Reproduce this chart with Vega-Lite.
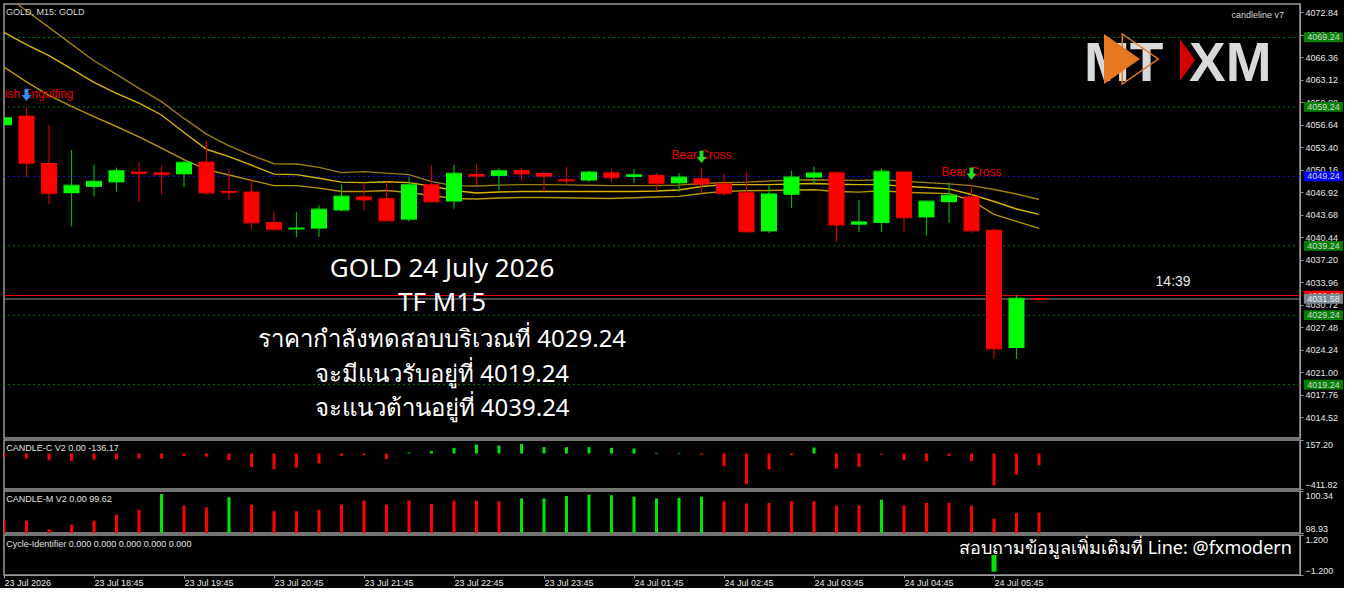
{
  "$schema": "https://vega.github.io/schema/vega-lite/v6.json",
  "background": "#000000",
  "padding": {"left": 2, "top": 3, "right": 0, "bottom": 0},
  "spacing": 2,
  "bounds": "flush",
  "config": {
    "view": {"stroke": "#9a9a9a", "strokeWidth": 1.5, "fill": "#000000"},
    "axis": {"labelColor": "#e6e6e6", "labelFont": "Liberation Sans", "labelFontSize": 9, "tickColor": "#9a9a9a", "domainColor": "#9a9a9a", "grid": false, "tickSize": 3, "labelPadding": 2, "labelOverlap": false},
    "text": {"font": "Liberation Sans"}
  },
  "datasets": {
    "bars": [
      {"i":0,"o":4056.61,"h":4058.00,"l":4056.30,"c":4057.65,"ma1":4075.42,"ma2":4069.97,"ma3":4064.96,"cc":-39,"cm":99.38,"md":"r"},
      {"i":1,"o":4057.98,"h":4059.23,"l":4049.10,"c":4051.16,"ma1":4073.08,"ma2":4068.21,"ma3":4062.84,"cc":-58,"cm":99.34,"md":"r"},
      {"i":2,"o":4051.16,"h":4056.61,"l":4045.23,"c":4046.81,"ma1":4070.69,"ma2":4066.61,"ma3":4060.89,"cc":-77,"cm":99.06,"md":"r"},
      {"i":3,"o":4046.81,"h":4053.03,"l":4042.04,"c":4047.91,"ma1":4068.28,"ma2":4064.72,"ma3":4059.32,"cc":-85,"cm":99.21,"md":"r"},
      {"i":4,"o":4047.73,"h":4050.88,"l":4046.34,"c":4048.48,"ma1":4065.89,"ma2":4062.78,"ma3":4057.85,"cc":-70,"cm":99.34,"md":"r"},
      {"i":5,"o":4048.38,"h":4050.49,"l":4047.05,"c":4050.02,"ma1":4063.93,"ma2":4061.19,"ma3":4056.42,"cc":-66,"cm":99.55,"md":"r"},
      {"i":6,"o":4049.92,"h":4051.25,"l":4045.62,"c":4049.68,"ma1":4061.91,"ma2":4059.80,"ma3":4054.93,"cc":-58,"cm":99.71,"md":"r"},
      {"i":7,"o":4049.82,"h":4050.78,"l":4046.67,"c":4049.53,"ma1":4059.99,"ma2":4058.08,"ma3":4053.30,"cc":-58,"cm":100.24,"md":"g"},
      {"i":8,"o":4049.53,"h":4051.49,"l":4047.67,"c":4051.21,"ma1":4057.58,"ma2":4055.56,"ma3":4051.65,"cc":-27,"cm":99.85,"md":"r"},
      {"i":9,"o":4051.35,"h":4054.36,"l":4046.58,"c":4046.91,"ma1":4055.32,"ma2":4053.14,"ma3":4050.20,"cc":-35,"cm":99.79,"md":"r"},
      {"i":10,"o":4047.15,"h":4050.30,"l":4045.86,"c":4046.95,"ma1":4053.64,"ma2":4052.07,"ma3":4049.43,"cc":-77,"cm":100.13,"md":"g"},
      {"i":11,"o":4047.05,"h":4048.87,"l":4041.65,"c":4042.61,"ma1":4052.27,"ma2":4050.85,"ma3":4048.67,"cc":-155,"cm":99.88,"md":"r"},
      {"i":12,"o":4042.65,"h":4044.19,"l":4041.42,"c":4041.65,"ma1":4051.06,"ma2":4049.56,"ma3":4047.91,"cc":-182,"cm":99.66,"md":"r"},
      {"i":13,"o":4041.61,"h":4044.09,"l":4040.50,"c":4041.75,"ma1":4051.02,"ma2":4049.49,"ma3":4047.91,"cc":-163,"cm":99.66,"md":"r"},
      {"i":14,"o":4041.71,"h":4045.05,"l":4040.50,"c":4044.47,"ma1":4050.53,"ma2":4048.97,"ma3":4047.55,"cc":-116,"cm":99.71,"md":"r"},
      {"i":15,"o":4044.33,"h":4048.10,"l":4044.19,"c":4046.34,"ma1":4049.77,"ma2":4048.41,"ma3":4047.05,"cc":-27,"cm":99.88,"md":"r"},
      {"i":16,"o":4046.34,"h":4048.24,"l":4044.43,"c":4045.91,"ma1":4049.92,"ma2":4048.34,"ma3":4047.05,"cc":-19,"cm":100.02,"md":"r"},
      {"i":17,"o":4046.09,"h":4048.48,"l":4042.75,"c":4042.90,"ma1":4049.70,"ma2":4048.46,"ma3":4047.20,"cc":-66,"cm":99.88,"md":"r"},
      {"i":18,"o":4043.00,"h":4049.10,"l":4042.75,"c":4048.01,"ma1":4049.49,"ma2":4048.34,"ma3":4046.91,"cc":12,"cm":100.02,"md":"r"},
      {"i":19,"o":4048.10,"h":4050.88,"l":4045.48,"c":4045.62,"ma1":4048.48,"ma2":4047.84,"ma3":4046.48,"cc":27,"cm":99.90,"md":"r"},
      {"i":20,"o":4045.62,"h":4050.88,"l":4044.57,"c":4049.63,"ma1":4047.91,"ma2":4047.20,"ma3":4046.05,"cc":66,"cm":100.01,"md":"r"},
      {"i":21,"o":4049.59,"h":4051.02,"l":4048.01,"c":4049.30,"ma1":4047.84,"ma2":4046.84,"ma3":4045.98,"cc":105,"cm":100.01,"md":"r"},
      {"i":22,"o":4049.30,"h":4050.39,"l":4047.15,"c":4050.02,"ma1":4047.98,"ma2":4046.98,"ma3":4046.12,"cc":93,"cm":99.99,"md":"r"},
      {"i":23,"o":4050.16,"h":4050.39,"l":4048.58,"c":4049.63,"ma1":4048.05,"ma2":4047.05,"ma3":4046.19,"cc":112,"cm":100.09,"md":"g"},
      {"i":24,"o":4049.73,"h":4049.92,"l":4047.15,"c":4049.30,"ma1":4048.05,"ma2":4047.05,"ma3":4046.19,"cc":74,"cm":100.09,"md":"g"},
      {"i":25,"o":4048.81,"h":4050.63,"l":4048.10,"c":4048.63,"ma1":4048.01,"ma2":4047.05,"ma3":4046.16,"cc":74,"cm":100.17,"md":"g"},
      {"i":26,"o":4048.63,"h":4050.06,"l":4048.48,"c":4049.82,"ma1":4047.95,"ma2":4047.05,"ma3":4046.09,"cc":74,"cm":100.22,"md":"g"},
      {"i":27,"o":4049.82,"h":4050.39,"l":4048.38,"c":4049.10,"ma1":4047.91,"ma2":4047.05,"ma3":4046.05,"cc":66,"cm":100.20,"md":"g"},
      {"i":28,"o":4049.16,"h":4050.30,"l":4048.24,"c":4049.44,"ma1":4047.91,"ma2":4047.05,"ma3":4046.15,"cc":58,"cm":100.15,"md":"g"},
      {"i":29,"o":4049.44,"h":4049.68,"l":4047.20,"c":4048.24,"ma1":4047.91,"ma2":4047.12,"ma3":4046.26,"cc":8,"cm":100.09,"md":"g"},
      {"i":30,"o":4048.24,"h":4049.68,"l":4047.05,"c":4049.10,"ma1":4047.98,"ma2":4047.27,"ma3":4046.36,"cc":8,"cm":100.11,"md":"g"},
      {"i":31,"o":4048.96,"h":4050.49,"l":4046.81,"c":4048.16,"ma1":4048.20,"ma2":4047.77,"ma3":4046.77,"cc":-15,"cm":100.15,"md":"g"},
      {"i":32,"o":4048.24,"h":4049.53,"l":4046.44,"c":4046.81,"ma1":4048.34,"ma2":4048.05,"ma3":4047.08,"cc":-147,"cm":99.99,"md":"r"},
      {"i":33,"o":4046.95,"h":4049.82,"l":4041.08,"c":4041.32,"ma1":4048.41,"ma2":4048.05,"ma3":4047.17,"cc":-355,"cm":99.92,"md":"r"},
      {"i":34,"o":4041.32,"h":4048.01,"l":4041.08,"c":4046.67,"ma1":4048.56,"ma2":4048.05,"ma3":4047.20,"cc":-186,"cm":99.94,"md":"r"},
      {"i":35,"o":4046.58,"h":4050.06,"l":4044.66,"c":4049.10,"ma1":4048.70,"ma2":4048.13,"ma3":4047.27,"cc":-19,"cm":100.00,"md":"r"},
      {"i":36,"o":4049.06,"h":4050.63,"l":4048.16,"c":4049.68,"ma1":4048.74,"ma2":4048.20,"ma3":4047.31,"cc":70,"cm":100.00,"md":"r"},
      {"i":37,"o":4049.82,"h":4050.02,"l":4039.79,"c":4042.28,"ma1":4048.67,"ma2":4048.11,"ma3":4047.05,"cc":-174,"cm":99.85,"md":"r"},
      {"i":38,"o":4042.28,"h":4045.86,"l":4041.22,"c":4042.65,"ma1":4048.66,"ma2":4048.05,"ma3":4046.97,"cc":-155,"cm":99.86,"md":"r"},
      {"i":39,"o":4042.51,"h":4050.39,"l":4041.22,"c":4049.92,"ma1":4048.74,"ma2":4048.05,"ma3":4047.17,"cc":-12,"cm":100.05,"md":"g"},
      {"i":40,"o":4049.92,"h":4050.06,"l":4041.22,"c":4043.33,"ma1":4048.54,"ma2":4047.81,"ma3":4046.95,"cc":-77,"cm":99.86,"md":"r"},
      {"i":41,"o":4043.33,"h":4045.72,"l":4040.75,"c":4045.62,"ma1":4048.34,"ma2":4047.63,"ma3":4046.84,"cc":-89,"cm":99.94,"md":"r"},
      {"i":42,"o":4045.52,"h":4048.38,"l":4042.51,"c":4046.48,"ma1":4048.16,"ma2":4047.44,"ma3":4046.75,"cc":-27,"cm":99.94,"md":"r"},
      {"i":43,"o":4046.34,"h":4048.01,"l":4041.08,"c":4041.46,"ma1":4047.91,"ma2":4046.62,"ma3":4045.76,"cc":-89,"cm":99.85,"md":"r"},
      {"i":44,"o":4041.56,"h":4041.65,"l":4022.94,"c":4024.46,"ma1":4047.34,"ma2":4045.62,"ma3":4043.76,"cc":-368,"cm":99.41,"md":"r"},
      {"i":45,"o":4024.52,"h":4032.15,"l":4022.94,"c":4031.62,"ma1":4046.69,"ma2":4044.54,"ma3":4042.75,"cc":-244,"cm":99.60,"md":"r"},
      {"i":46,"o":4031.70,"h":4031.80,"l":4031.40,"c":4031.58,"ma1":4045.91,"ma2":4043.76,"ma3":4041.75,"cc":-136.17,"cm":99.62,"md":"r"}
    ],
    "levels": [
      {"p":4069.24,"k":"sr"},
      {"p":4059.24,"k":"sr"},
      {"p":4049.24,"k":"pivot"},
      {"p":4039.24,"k":"sr"},
      {"p":4029.24,"k":"sr"},
      {"p":4019.24,"k":"sr"},
      {"p":4032.08,"k":"ask"},
      {"p":4031.58,"k":"bid"}
    ],
    "patterns": [
      {"i":1,"p":4060.53,"t":"Bearish Engulfing"},
      {"i":31,"p":4051.81,"t":"Bear Cross"},
      {"i":43,"p":4049.29,"t":"Bear Cross"}
    ],
    "arrows": [
      {"i":1,"p":4060.96,"k":"blue"},
      {"i":31,"p":4052.03,"k":"green"},
      {"i":43,"p":4049.65,"k":"green"}
    ],
    "blockLatin": [
      {"i":19.47,"p":4034.75,"t":"GOLD 24 July 2026"},
      {"i":19.47,"p":4029.86,"t":"TF M15"}
    ],
    "blockThai": [
      {"i":19.47,"p":4024.67,"t":"ราคากำลังทดสอบบริเวณที่ 4029.24"},
      {"i":19.47,"p":4019.63,"t":"จะมีแนวรับอยู่ที่ 4019.24"},
      {"i":19.47,"p":4014.73,"t":"จะแนวต้านอยู่ที่ 4039.24"}
    ],
    "leftLabel": [{"i":0.09,"p":4072.48,"t":"GOLD, M15:  GOLD"}],
    "rightLabel": [{"i":56.89,"p":4072.05,"t":"candleline v7"}],
    "timer": [{"i":51.96,"p":4034.03,"t":"14:39"}],
    "logoText": [
      {"i":48.0,"p":4062.98,"t":"MT"},
      {"i":52.67,"p":4062.98,"t":"XM"}
    ],
    "logoOrange": [{"i":49.69,"p":4066.14}],
    "logoOrangeOutline": [{"i":50.5,"p":4066.14}],
    "logoRed": [{"i":52.6,"p":4066.0}],
    "hdr2": [{"i":0.1,"v":58.5,"t":"CANDLE-C V2 0.00 -136.17"}],
    "hdr3": [{"i":0.1,"v":100.07,"t":"CANDLE-M V2 0.00 99.62"}],
    "hdr4": [{"i":0.1,"v":0.66,"t":"Cycle-Identifier 0.000 0.000 0.000 0.000 0.000"}],
    "cycle": [{"i":44,"cy":-1.0}],
    "contact": [{"i":57.24,"v":0.06,"t":"สอบถามข้อมูลเพิ่มเติมที่ Line: @fxmodern"}]
  },
  "vconcat": [
    {
      "width": 1296,
      "height": 434,
      "layer": [
        {
          "data": {"name": "levels"},
          "transform": [{"filter": "datum.k == 'sr'"}],
          "mark": {"type": "rule", "color": "#007a00", "strokeDash": [2, 3], "strokeWidth": 1},
          "encoding": {
            "y": {"field": "p", "type": "quantitative", "scale": {"domain": [4011.56, 4074.06], "nice": false, "zero": false}, "axis": {"orient": "right", "title": null, "values": [4014.52,4017.76,4021.00,4024.24,4027.48,4030.72,4033.96,4037.20,4040.44,4043.68,4046.92,4050.16,4053.40,4056.64,4059.88,4063.12,4066.36,4069.60,4072.84], "format": ".2f", "labelFlush": false}}
          }
        },
        {
          "data": {"name": "levels"},
          "transform": [{"filter": "datum.k == 'pivot'"}],
          "mark": {"type": "rule", "color": "#1010e0", "strokeDash": [2, 3], "strokeWidth": 1},
          "encoding": {
            "y": {"field": "p", "type": "quantitative", "scale": {"domain": [4011.56, 4074.06], "nice": false, "zero": false}, "axis": {"orient": "right", "title": null, "values": [4014.52,4017.76,4021.00,4024.24,4027.48,4030.72,4033.96,4037.20,4040.44,4043.68,4046.92,4050.16,4053.40,4056.64,4059.88,4063.12,4066.36,4069.60,4072.84], "format": ".2f", "labelFlush": false}}
          }
        },
        {
          "data": {"name": "levels"},
          "transform": [{"filter": "datum.k == 'ask'"}],
          "mark": {"type": "rule", "color": "#e00000", "strokeWidth": 1},
          "encoding": {
            "y": {"field": "p", "type": "quantitative", "scale": {"domain": [4011.56, 4074.06], "nice": false, "zero": false}, "axis": {"orient": "right", "title": null, "values": [4014.52,4017.76,4021.00,4024.24,4027.48,4030.72,4033.96,4037.20,4040.44,4043.68,4046.92,4050.16,4053.40,4056.64,4059.88,4063.12,4066.36,4069.60,4072.84], "format": ".2f", "labelFlush": false}}
          }
        },
        {
          "data": {"name": "levels"},
          "transform": [{"filter": "datum.k == 'bid'"}],
          "mark": {"type": "rule", "color": "#8a949e", "strokeWidth": 1.2},
          "encoding": {
            "y": {"field": "p", "type": "quantitative", "scale": {"domain": [4011.56, 4074.06], "nice": false, "zero": false}, "axis": {"orient": "right", "title": null, "values": [4014.52,4017.76,4021.00,4024.24,4027.48,4030.72,4033.96,4037.20,4040.44,4043.68,4046.92,4050.16,4053.40,4056.64,4059.88,4063.12,4066.36,4069.60,4072.84], "format": ".2f", "labelFlush": false}}
          }
        },
        {
          "data": {"name": "bars"},
          "mark": {"type": "line", "color": "#9c7f0c", "strokeWidth": 1.4, "clip": true},
          "encoding": {
            "x": {"field": "i", "type": "quantitative", "scale": {"domain": [0, 57.6], "nice": false, "zero": false, "padding": 0}, "axis": null},
            "y": {"field": "ma1", "type": "quantitative", "scale": {"domain": [4011.56, 4074.06], "nice": false, "zero": false}, "axis": {"orient": "right", "title": null, "values": [4014.52,4017.76,4021.00,4024.24,4027.48,4030.72,4033.96,4037.20,4040.44,4043.68,4046.92,4050.16,4053.40,4056.64,4059.88,4063.12,4066.36,4069.60,4072.84], "format": ".2f", "labelFlush": false}}
          }
        },
        {
          "data": {"name": "bars"},
          "mark": {"type": "line", "color": "#d8b400", "strokeWidth": 1.4, "clip": true},
          "encoding": {
            "x": {"field": "i", "type": "quantitative", "scale": {"domain": [0, 57.6], "nice": false, "zero": false, "padding": 0}, "axis": null},
            "y": {"field": "ma2", "type": "quantitative", "scale": {"domain": [4011.56, 4074.06], "nice": false, "zero": false}, "axis": {"orient": "right", "title": null, "values": [4014.52,4017.76,4021.00,4024.24,4027.48,4030.72,4033.96,4037.20,4040.44,4043.68,4046.92,4050.16,4053.40,4056.64,4059.88,4063.12,4066.36,4069.60,4072.84], "format": ".2f", "labelFlush": false}}
          }
        },
        {
          "data": {"name": "bars"},
          "mark": {"type": "line", "color": "#b89600", "strokeWidth": 1.4, "clip": true},
          "encoding": {
            "x": {"field": "i", "type": "quantitative", "scale": {"domain": [0, 57.6], "nice": false, "zero": false, "padding": 0}, "axis": null},
            "y": {"field": "ma3", "type": "quantitative", "scale": {"domain": [4011.56, 4074.06], "nice": false, "zero": false}, "axis": {"orient": "right", "title": null, "values": [4014.52,4017.76,4021.00,4024.24,4027.48,4030.72,4033.96,4037.20,4040.44,4043.68,4046.92,4050.16,4053.40,4056.64,4059.88,4063.12,4066.36,4069.60,4072.84], "format": ".2f", "labelFlush": false}}
          }
        },
        {
          "data": {"name": "bars"},
          "mark": {"type": "rule", "strokeWidth": 1.2, "clip": true},
          "encoding": {
            "x": {"field": "i", "type": "quantitative", "scale": {"domain": [0, 57.6], "nice": false, "zero": false, "padding": 0}, "axis": null},
            "y": {"field": "l", "type": "quantitative", "scale": {"domain": [4011.56, 4074.06], "nice": false, "zero": false}, "axis": {"orient": "right", "title": null, "values": [4014.52,4017.76,4021.00,4024.24,4027.48,4030.72,4033.96,4037.20,4040.44,4043.68,4046.92,4050.16,4053.40,4056.64,4059.88,4063.12,4066.36,4069.60,4072.84], "format": ".2f", "labelFlush": false}},
            "y2": {"field": "h"},
            "color": {"condition": {"test": "datum.c >= datum.o", "value": "#00b400"}, "value": "#d00000"}
          }
        },
        {
          "data": {"name": "bars"},
          "mark": {"type": "bar", "size": 16, "clip": true},
          "encoding": {
            "x": {"field": "i", "type": "quantitative", "scale": {"domain": [0, 57.6], "nice": false, "zero": false, "padding": 0}, "axis": null},
            "y": {"field": "o", "type": "quantitative", "scale": {"domain": [4011.56, 4074.06], "nice": false, "zero": false}, "axis": {"orient": "right", "title": null, "values": [4014.52,4017.76,4021.00,4024.24,4027.48,4030.72,4033.96,4037.20,4040.44,4043.68,4046.92,4050.16,4053.40,4056.64,4059.88,4063.12,4066.36,4069.60,4072.84], "format": ".2f", "labelFlush": false}},
            "y2": {"field": "c"},
            "color": {"condition": {"test": "datum.c >= datum.o", "value": "#00ff00"}, "value": "#ff0000"}
          }
        },
        {
          "data": {"name": "bars"},
          "mark": {"type": "tick", "orient": "horizontal", "size": 16, "thickness": 2, "clip": true},
          "encoding": {
            "x": {"field": "i", "type": "quantitative", "scale": {"domain": [0, 57.6], "nice": false, "zero": false, "padding": 0}, "axis": null},
            "y": {"field": "c", "type": "quantitative", "scale": {"domain": [4011.56, 4074.06], "nice": false, "zero": false}, "axis": {"orient": "right", "title": null, "values": [4014.52,4017.76,4021.00,4024.24,4027.48,4030.72,4033.96,4037.20,4040.44,4043.68,4046.92,4050.16,4053.40,4056.64,4059.88,4063.12,4066.36,4069.60,4072.84], "format": ".2f", "labelFlush": false}},
            "color": {"condition": {"test": "datum.c >= datum.o", "value": "#00ff00"}, "value": "#ff0000"}
          }
        },
        {
          "data": {"name": "patterns"},
          "mark": {"type": "text", "align": "center", "baseline": "alphabetic", "fontSize": 12, "font": "Liberation Sans", "color": "#e80000", "clip": true},
          "encoding": {
            "x": {"field": "i", "type": "quantitative", "scale": {"domain": [0, 57.6], "nice": false, "zero": false, "padding": 0}, "axis": null},
            "y": {"field": "p", "type": "quantitative", "scale": {"domain": [4011.56, 4074.06], "nice": false, "zero": false}, "axis": {"orient": "right", "title": null, "values": [4014.52,4017.76,4021.00,4024.24,4027.48,4030.72,4033.96,4037.20,4040.44,4043.68,4046.92,4050.16,4053.40,4056.64,4059.88,4063.12,4066.36,4069.60,4072.84], "format": ".2f", "labelFlush": false}},
            "text": {"field": "t"}
          }
        },
        {
          "data": {"name": "arrows"},
          "transform": [{"filter": "datum.k == 'blue'"}],
          "mark": {"type": "point", "shape": "M-0.32,-1L0.32,-1L0.32,0L0.8,0L0,1L-0.8,0L-0.32,0Z", "size": 150, "filled": true, "opacity": 1, "strokeWidth": 0, "color": "#2e8fff"},
          "encoding": {
            "x": {"field": "i", "type": "quantitative", "scale": {"domain": [0, 57.6], "nice": false, "zero": false, "padding": 0}, "axis": null},
            "y": {"field": "p", "type": "quantitative", "scale": {"domain": [4011.56, 4074.06], "nice": false, "zero": false}, "axis": {"orient": "right", "title": null, "values": [4014.52,4017.76,4021.00,4024.24,4027.48,4030.72,4033.96,4037.20,4040.44,4043.68,4046.92,4050.16,4053.40,4056.64,4059.88,4063.12,4066.36,4069.60,4072.84], "format": ".2f", "labelFlush": false}}
          }
        },
        {
          "data": {"name": "arrows"},
          "transform": [{"filter": "datum.k == 'green'"}],
          "mark": {"type": "point", "shape": "M-0.32,-1L0.32,-1L0.32,0L0.8,0L0,1L-0.8,0L-0.32,0Z", "size": 150, "filled": true, "opacity": 1, "strokeWidth": 0, "color": "#22e022"},
          "encoding": {
            "x": {"field": "i", "type": "quantitative", "scale": {"domain": [0, 57.6], "nice": false, "zero": false, "padding": 0}, "axis": null},
            "y": {"field": "p", "type": "quantitative", "scale": {"domain": [4011.56, 4074.06], "nice": false, "zero": false}, "axis": {"orient": "right", "title": null, "values": [4014.52,4017.76,4021.00,4024.24,4027.48,4030.72,4033.96,4037.20,4040.44,4043.68,4046.92,4050.16,4053.40,4056.64,4059.88,4063.12,4066.36,4069.60,4072.84], "format": ".2f", "labelFlush": false}}
          }
        },
        {
          "data": {"name": "blockLatin"},
          "mark": {"type": "text", "align": "center", "baseline": "alphabetic", "fontSize": 26, "font": "Noto Sans", "color": "#ffffff"},
          "encoding": {
            "x": {"field": "i", "type": "quantitative", "scale": {"domain": [0, 57.6], "nice": false, "zero": false, "padding": 0}, "axis": null},
            "y": {"field": "p", "type": "quantitative", "scale": {"domain": [4011.56, 4074.06], "nice": false, "zero": false}, "axis": {"orient": "right", "title": null, "values": [4014.52,4017.76,4021.00,4024.24,4027.48,4030.72,4033.96,4037.20,4040.44,4043.68,4046.92,4050.16,4053.40,4056.64,4059.88,4063.12,4066.36,4069.60,4072.84], "format": ".2f", "labelFlush": false}},
            "text": {"field": "t"}
          }
        },
        {
          "data": {"name": "blockThai"},
          "mark": {"type": "text", "align": "center", "baseline": "alphabetic", "fontSize": 24, "font": "Noto Sans", "color": "#ffffff"},
          "encoding": {
            "x": {"field": "i", "type": "quantitative", "scale": {"domain": [0, 57.6], "nice": false, "zero": false, "padding": 0}, "axis": null},
            "y": {"field": "p", "type": "quantitative", "scale": {"domain": [4011.56, 4074.06], "nice": false, "zero": false}, "axis": {"orient": "right", "title": null, "values": [4014.52,4017.76,4021.00,4024.24,4027.48,4030.72,4033.96,4037.20,4040.44,4043.68,4046.92,4050.16,4053.40,4056.64,4059.88,4063.12,4066.36,4069.60,4072.84], "format": ".2f", "labelFlush": false}},
            "text": {"field": "t"}
          }
        },
        {
          "data": {"name": "timer"},
          "mark": {"type": "text", "align": "center", "baseline": "middle", "fontSize": 14, "font": "Liberation Sans", "color": "#e8e8e8"},
          "encoding": {
            "x": {"field": "i", "type": "quantitative", "scale": {"domain": [0, 57.6], "nice": false, "zero": false, "padding": 0}, "axis": null},
            "y": {"field": "p", "type": "quantitative", "scale": {"domain": [4011.56, 4074.06], "nice": false, "zero": false}, "axis": {"orient": "right", "title": null, "values": [4014.52,4017.76,4021.00,4024.24,4027.48,4030.72,4033.96,4037.20,4040.44,4043.68,4046.92,4050.16,4053.40,4056.64,4059.88,4063.12,4066.36,4069.60,4072.84], "format": ".2f", "labelFlush": false}},
            "text": {"field": "t"}
          }
        },
        {
          "data": {"name": "leftLabel"},
          "mark": {"type": "text", "align": "left", "baseline": "alphabetic", "fontSize": 9, "font": "Liberation Sans", "color": "#d8d8d8"},
          "encoding": {
            "x": {"field": "i", "type": "quantitative", "scale": {"domain": [0, 57.6], "nice": false, "zero": false, "padding": 0}, "axis": null},
            "y": {"field": "p", "type": "quantitative", "scale": {"domain": [4011.56, 4074.06], "nice": false, "zero": false}, "axis": {"orient": "right", "title": null, "values": [4014.52,4017.76,4021.00,4024.24,4027.48,4030.72,4033.96,4037.20,4040.44,4043.68,4046.92,4050.16,4053.40,4056.64,4059.88,4063.12,4066.36,4069.60,4072.84], "format": ".2f", "labelFlush": false}},
            "text": {"field": "t"}
          }
        },
        {
          "data": {"name": "rightLabel"},
          "mark": {"type": "text", "align": "right", "baseline": "alphabetic", "fontSize": 9, "font": "Liberation Sans", "color": "#d8d8d8"},
          "encoding": {
            "x": {"field": "i", "type": "quantitative", "scale": {"domain": [0, 57.6], "nice": false, "zero": false, "padding": 0}, "axis": null},
            "y": {"field": "p", "type": "quantitative", "scale": {"domain": [4011.56, 4074.06], "nice": false, "zero": false}, "axis": {"orient": "right", "title": null, "values": [4014.52,4017.76,4021.00,4024.24,4027.48,4030.72,4033.96,4037.20,4040.44,4043.68,4046.92,4050.16,4053.40,4056.64,4059.88,4063.12,4066.36,4069.60,4072.84], "format": ".2f", "labelFlush": false}},
            "text": {"field": "t"}
          }
        },
        {
          "data": {"name": "logoText"},
          "mark": {"type": "text", "align": "left", "baseline": "alphabetic", "fontSize": 55, "font": "Liberation Sans", "fontWeight": "bold", "color": "#d9d9d9"},
          "encoding": {
            "x": {"field": "i", "type": "quantitative", "scale": {"domain": [0, 57.6], "nice": false, "zero": false, "padding": 0}, "axis": null},
            "y": {"field": "p", "type": "quantitative", "scale": {"domain": [4011.56, 4074.06], "nice": false, "zero": false}, "axis": {"orient": "right", "title": null, "values": [4014.52,4017.76,4021.00,4024.24,4027.48,4030.72,4033.96,4037.20,4040.44,4043.68,4046.92,4050.16,4053.40,4056.64,4059.88,4063.12,4066.36,4069.60,4072.84], "format": ".2f", "labelFlush": false}},
            "text": {"field": "t"}
          }
        },
        {
          "data": {"name": "logoOrangeOutline"},
          "mark": {"type": "point", "shape": "M-0.72,-1L0.72,0L-0.72,1Z", "size": 2500, "filled": false, "color": "#e87722", "strokeWidth": 1.5, "opacity": 1},
          "encoding": {
            "x": {"field": "i", "type": "quantitative", "scale": {"domain": [0, 57.6], "nice": false, "zero": false, "padding": 0}, "axis": null},
            "y": {"field": "p", "type": "quantitative", "scale": {"domain": [4011.56, 4074.06], "nice": false, "zero": false}, "axis": {"orient": "right", "title": null, "values": [4014.52,4017.76,4021.00,4024.24,4027.48,4030.72,4033.96,4037.20,4040.44,4043.68,4046.92,4050.16,4053.40,4056.64,4059.88,4063.12,4066.36,4069.60,4072.84], "format": ".2f", "labelFlush": false}}
          }
        },
        {
          "data": {"name": "logoOrange"},
          "mark": {"type": "point", "shape": "M-0.72,-1L0.72,0L-0.72,1Z", "size": 2500, "filled": true, "color": "#e87722", "opacity": 1, "strokeWidth": 0},
          "encoding": {
            "x": {"field": "i", "type": "quantitative", "scale": {"domain": [0, 57.6], "nice": false, "zero": false, "padding": 0}, "axis": null},
            "y": {"field": "p", "type": "quantitative", "scale": {"domain": [4011.56, 4074.06], "nice": false, "zero": false}, "axis": {"orient": "right", "title": null, "values": [4014.52,4017.76,4021.00,4024.24,4027.48,4030.72,4033.96,4037.20,4040.44,4043.68,4046.92,4050.16,4053.40,4056.64,4059.88,4063.12,4066.36,4069.60,4072.84], "format": ".2f", "labelFlush": false}}
          }
        },
        {
          "data": {"name": "logoRed"},
          "mark": {"type": "point", "shape": "M-0.36,-1L0.36,0L-0.36,1Z", "size": 1764, "filled": true, "color": "#d50000", "opacity": 1, "strokeWidth": 0},
          "encoding": {
            "x": {"field": "i", "type": "quantitative", "scale": {"domain": [0, 57.6], "nice": false, "zero": false, "padding": 0}, "axis": null},
            "y": {"field": "p", "type": "quantitative", "scale": {"domain": [4011.56, 4074.06], "nice": false, "zero": false}, "axis": {"orient": "right", "title": null, "values": [4014.52,4017.76,4021.00,4024.24,4027.48,4030.72,4033.96,4037.20,4040.44,4043.68,4046.92,4050.16,4053.40,4056.64,4059.88,4063.12,4066.36,4069.60,4072.84], "format": ".2f", "labelFlush": false}}
          }
        },
        {
          "data": {"name": "levels"},
          "transform": [{"filter": "datum.k == 'sr'"}],
          "mark": {"type": "point", "shape": "M-1,-0.25L1,-0.25L1,0.25L-1,0.25Z", "size": 1521, "filled": true, "opacity": 1, "strokeWidth": 0, "color": "#008000"},
          "encoding": {
            "x": {"datum": 58.64, "type": "quantitative", "scale": {"domain": [0, 57.6], "nice": false, "zero": false, "padding": 0}, "axis": null},
            "y": {"field": "p", "type": "quantitative", "scale": {"domain": [4011.56, 4074.06], "nice": false, "zero": false}, "axis": {"orient": "right", "title": null, "values": [4014.52,4017.76,4021.00,4024.24,4027.48,4030.72,4033.96,4037.20,4040.44,4043.68,4046.92,4050.16,4053.40,4056.64,4059.88,4063.12,4066.36,4069.60,4072.84], "format": ".2f", "labelFlush": false}}
          }
        },
        {
          "data": {"name": "levels"},
          "transform": [{"filter": "datum.k == 'pivot'"}],
          "mark": {"type": "point", "shape": "M-1,-0.25L1,-0.25L1,0.25L-1,0.25Z", "size": 1521, "filled": true, "opacity": 1, "strokeWidth": 0, "color": "#0000ff"},
          "encoding": {
            "x": {"datum": 58.64, "type": "quantitative", "scale": {"domain": [0, 57.6], "nice": false, "zero": false, "padding": 0}, "axis": null},
            "y": {"field": "p", "type": "quantitative", "scale": {"domain": [4011.56, 4074.06], "nice": false, "zero": false}, "axis": {"orient": "right", "title": null, "values": [4014.52,4017.76,4021.00,4024.24,4027.48,4030.72,4033.96,4037.20,4040.44,4043.68,4046.92,4050.16,4053.40,4056.64,4059.88,4063.12,4066.36,4069.60,4072.84], "format": ".2f", "labelFlush": false}}
          }
        },
        {
          "data": {"name": "levels"},
          "transform": [{"filter": "datum.k == 'ask'"}],
          "mark": {"type": "point", "shape": "M-1,-0.25L1,-0.25L1,0.25L-1,0.25Z", "size": 1521, "filled": true, "opacity": 1, "strokeWidth": 0, "color": "#ff0000"},
          "encoding": {
            "x": {"datum": 58.64, "type": "quantitative", "scale": {"domain": [0, 57.6], "nice": false, "zero": false, "padding": 0}, "axis": null},
            "y": {"field": "p", "type": "quantitative", "scale": {"domain": [4011.56, 4074.06], "nice": false, "zero": false}, "axis": {"orient": "right", "title": null, "values": [4014.52,4017.76,4021.00,4024.24,4027.48,4030.72,4033.96,4037.20,4040.44,4043.68,4046.92,4050.16,4053.40,4056.64,4059.88,4063.12,4066.36,4069.60,4072.84], "format": ".2f", "labelFlush": false}}
          }
        },
        {
          "data": {"name": "levels"},
          "transform": [{"filter": "datum.k != 'bid'"}],
          "mark": {"type": "text", "align": "center", "baseline": "middle", "fontSize": 9, "font": "Liberation Sans", "color": "#d6d6d6"},
          "encoding": {
            "x": {"datum": 58.64, "type": "quantitative", "scale": {"domain": [0, 57.6], "nice": false, "zero": false, "padding": 0}, "axis": null},
            "y": {"field": "p", "type": "quantitative", "scale": {"domain": [4011.56, 4074.06], "nice": false, "zero": false}, "axis": {"orient": "right", "title": null, "values": [4014.52,4017.76,4021.00,4024.24,4027.48,4030.72,4033.96,4037.20,4040.44,4043.68,4046.92,4050.16,4053.40,4056.64,4059.88,4063.12,4066.36,4069.60,4072.84], "format": ".2f", "labelFlush": false}},
            "text": {"field": "p", "type": "quantitative", "format": ".2f"}
          }
        },
        {
          "data": {"name": "levels"},
          "transform": [{"filter": "datum.k == 'bid'"}],
          "mark": {"type": "point", "shape": "M-1,-0.25L1,-0.25L1,0.25L-1,0.25Z", "size": 1521, "filled": true, "opacity": 1, "strokeWidth": 0, "color": "#7a8894"},
          "encoding": {
            "x": {"datum": 58.64, "type": "quantitative", "scale": {"domain": [0, 57.6], "nice": false, "zero": false, "padding": 0}, "axis": null},
            "y": {"field": "p", "type": "quantitative", "scale": {"domain": [4011.56, 4074.06], "nice": false, "zero": false}, "axis": {"orient": "right", "title": null, "values": [4014.52,4017.76,4021.00,4024.24,4027.48,4030.72,4033.96,4037.20,4040.44,4043.68,4046.92,4050.16,4053.40,4056.64,4059.88,4063.12,4066.36,4069.60,4072.84], "format": ".2f", "labelFlush": false}}
          }
        },
        {
          "data": {"name": "levels"},
          "transform": [{"filter": "datum.k == 'bid'"}],
          "mark": {"type": "text", "align": "center", "baseline": "middle", "fontSize": 9, "font": "Liberation Sans", "color": "#ececec"},
          "encoding": {
            "x": {"datum": 58.64, "type": "quantitative", "scale": {"domain": [0, 57.6], "nice": false, "zero": false, "padding": 0}, "axis": null},
            "y": {"field": "p", "type": "quantitative", "scale": {"domain": [4011.56, 4074.06], "nice": false, "zero": false}, "axis": {"orient": "right", "title": null, "values": [4014.52,4017.76,4021.00,4024.24,4027.48,4030.72,4033.96,4037.20,4040.44,4043.68,4046.92,4050.16,4053.40,4056.64,4059.88,4063.12,4066.36,4069.60,4072.84], "format": ".2f", "labelFlush": false}},
            "text": {"field": "p", "type": "quantitative", "format": ".2f"}
          }
        }
      ]
    },
    {
      "width": 1296,
      "height": 49,
      "layer": [
        {
          "data": {"name": "bars"},
          "mark": {"type": "rule", "strokeWidth": 3, "clip": true},
          "encoding": {
            "x": {"field": "i", "type": "quantitative", "scale": {"domain": [0, 57.6], "nice": false, "zero": false, "padding": 0}, "axis": null},
            "y": {"field": "cc", "type": "quantitative", "scale": {"domain": [-411.82, 157.2], "nice": false, "zero": false},
                  "axis": {"orient": "right", "title": null, "values": [-411.82, 157.2], "format": ".2f", "labelFlush": true}},
            "y2": {"datum": 0},
            "color": {"condition": {"test": "datum.cc > 0", "value": "#00e600"}, "value": "#ff0000"}
          }
        },
        {
          "data": {"name": "hdr2"},
          "mark": {"type": "text", "align": "left", "baseline": "middle", "fontSize": 9, "font": "Liberation Sans", "color": "#e0e0e0"},
          "encoding": {
            "x": {"field": "i", "type": "quantitative", "scale": {"domain": [0, 57.6], "nice": false, "zero": false, "padding": 0}, "axis": null},
            "y": {"field": "v", "type": "quantitative", "scale": {"domain": [-411.82, 157.2], "nice": false, "zero": false},
                  "axis": {"orient": "right", "title": null, "values": [-411.82, 157.2], "format": ".2f", "labelFlush": true}},
            "text": {"field": "t"}
          }
        }
      ]
    },
    {
      "width": 1296,
      "height": 42,
      "layer": [
        {
          "data": {"name": "bars"},
          "mark": {"type": "rule", "strokeWidth": 3, "clip": true},
          "encoding": {
            "x": {"field": "i", "type": "quantitative", "scale": {"domain": [0, 57.6], "nice": false, "zero": false, "padding": 0}, "axis": null},
            "y": {"field": "cm", "type": "quantitative", "scale": {"domain": [98.93, 100.34], "nice": false, "zero": false},
                  "axis": {"orient": "right", "title": null, "values": [98.93, 100.34], "format": ".2f", "labelFlush": true}},
            "y2": {"datum": 98.93},
            "color": {"condition": {"test": "datum.md == 'g'", "value": "#00e600"}, "value": "#ff0000"}
          }
        },
        {
          "data": {"name": "hdr3"},
          "mark": {"type": "text", "align": "left", "baseline": "middle", "fontSize": 9, "font": "Liberation Sans", "color": "#e0e0e0"},
          "encoding": {
            "x": {"field": "i", "type": "quantitative", "scale": {"domain": [0, 57.6], "nice": false, "zero": false, "padding": 0}, "axis": null},
            "y": {"field": "v", "type": "quantitative", "scale": {"domain": [98.93, 100.34], "nice": false, "zero": false},
                  "axis": {"orient": "right", "title": null, "values": [98.93, 100.34], "format": ".2f", "labelFlush": true}},
            "text": {"field": "t"}
          }
        }
      ]
    },
    {
      "width": 1296,
      "height": 40,
      "layer": [
        {
          "data": {"name": "cycle"},
          "mark": {"type": "rule", "strokeWidth": 5, "color": "#00e600", "clip": true},
          "encoding": {
            "x": {"field": "i", "type": "quantitative", "scale": {"domain": [0, 57.6], "nice": false, "zero": false, "padding": 0},
                  "axis": {"orient": "bottom", "title": null, "values": [0,4,8,12,16,20,24,28,32,36,40,44], "labelAlign": "left", "labelFlush": false, "tickSize": 3, "labelPadding": 0,
                           "labelExpr": "['23 Jul 2026','23 Jul 18:45','23 Jul 19:45','23 Jul 20:45','23 Jul 21:45','23 Jul 22:45','23 Jul 23:45','24 Jul 01:45','24 Jul 02:45','24 Jul 03:45','24 Jul 04:45','24 Jul 05:45'][round(datum.value/4)]"}},
            "y": {"field": "cy", "type": "quantitative", "scale": {"domain": [-1.2, 1.2], "nice": false, "zero": false},
                  "axis": {"orient": "right", "title": null, "values": [-1.2, 1.2], "format": ".3f", "labelFlush": true}},
            "y2": {"datum": 0}
          }
        },
        {
          "data": {"name": "hdr4"},
          "mark": {"type": "text", "align": "left", "baseline": "middle", "fontSize": 9, "font": "Liberation Sans", "color": "#e0e0e0"},
          "encoding": {
            "x": {"field": "i", "type": "quantitative", "scale": {"domain": [0, 57.6], "nice": false, "zero": false, "padding": 0},
                  "axis": {"orient": "bottom", "title": null, "values": [0,4,8,12,16,20,24,28,32,36,40,44], "labelAlign": "left", "labelFlush": false, "tickSize": 3, "labelPadding": 0,
                           "labelExpr": "['23 Jul 2026','23 Jul 18:45','23 Jul 19:45','23 Jul 20:45','23 Jul 21:45','23 Jul 22:45','23 Jul 23:45','24 Jul 01:45','24 Jul 02:45','24 Jul 03:45','24 Jul 04:45','24 Jul 05:45'][round(datum.value/4)]"}},
            "y": {"field": "v", "type": "quantitative", "scale": {"domain": [-1.2, 1.2], "nice": false, "zero": false},
                  "axis": {"orient": "right", "title": null, "values": [-1.2, 1.2], "format": ".3f", "labelFlush": true}},
            "text": {"field": "t"}
          }
        },
        {
          "data": {"name": "contact"},
          "mark": {"type": "text", "align": "right", "baseline": "alphabetic", "fontSize": 18, "font": "Noto Sans", "color": "#ffffff"},
          "encoding": {
            "x": {"field": "i", "type": "quantitative", "scale": {"domain": [0, 57.6], "nice": false, "zero": false, "padding": 0},
                  "axis": {"orient": "bottom", "title": null, "values": [0,4,8,12,16,20,24,28,32,36,40,44], "labelAlign": "left", "labelFlush": false, "tickSize": 3, "labelPadding": 0,
                           "labelExpr": "['23 Jul 2026','23 Jul 18:45','23 Jul 19:45','23 Jul 20:45','23 Jul 21:45','23 Jul 22:45','23 Jul 23:45','24 Jul 01:45','24 Jul 02:45','24 Jul 03:45','24 Jul 04:45','24 Jul 05:45'][round(datum.value/4)]"}},
            "y": {"field": "v", "type": "quantitative", "scale": {"domain": [-1.2, 1.2], "nice": false, "zero": false},
                  "axis": {"orient": "right", "title": null, "values": [-1.2, 1.2], "format": ".3f", "labelFlush": true}},
            "text": {"field": "t"}
          }
        }
      ]
    }
  ]
}
